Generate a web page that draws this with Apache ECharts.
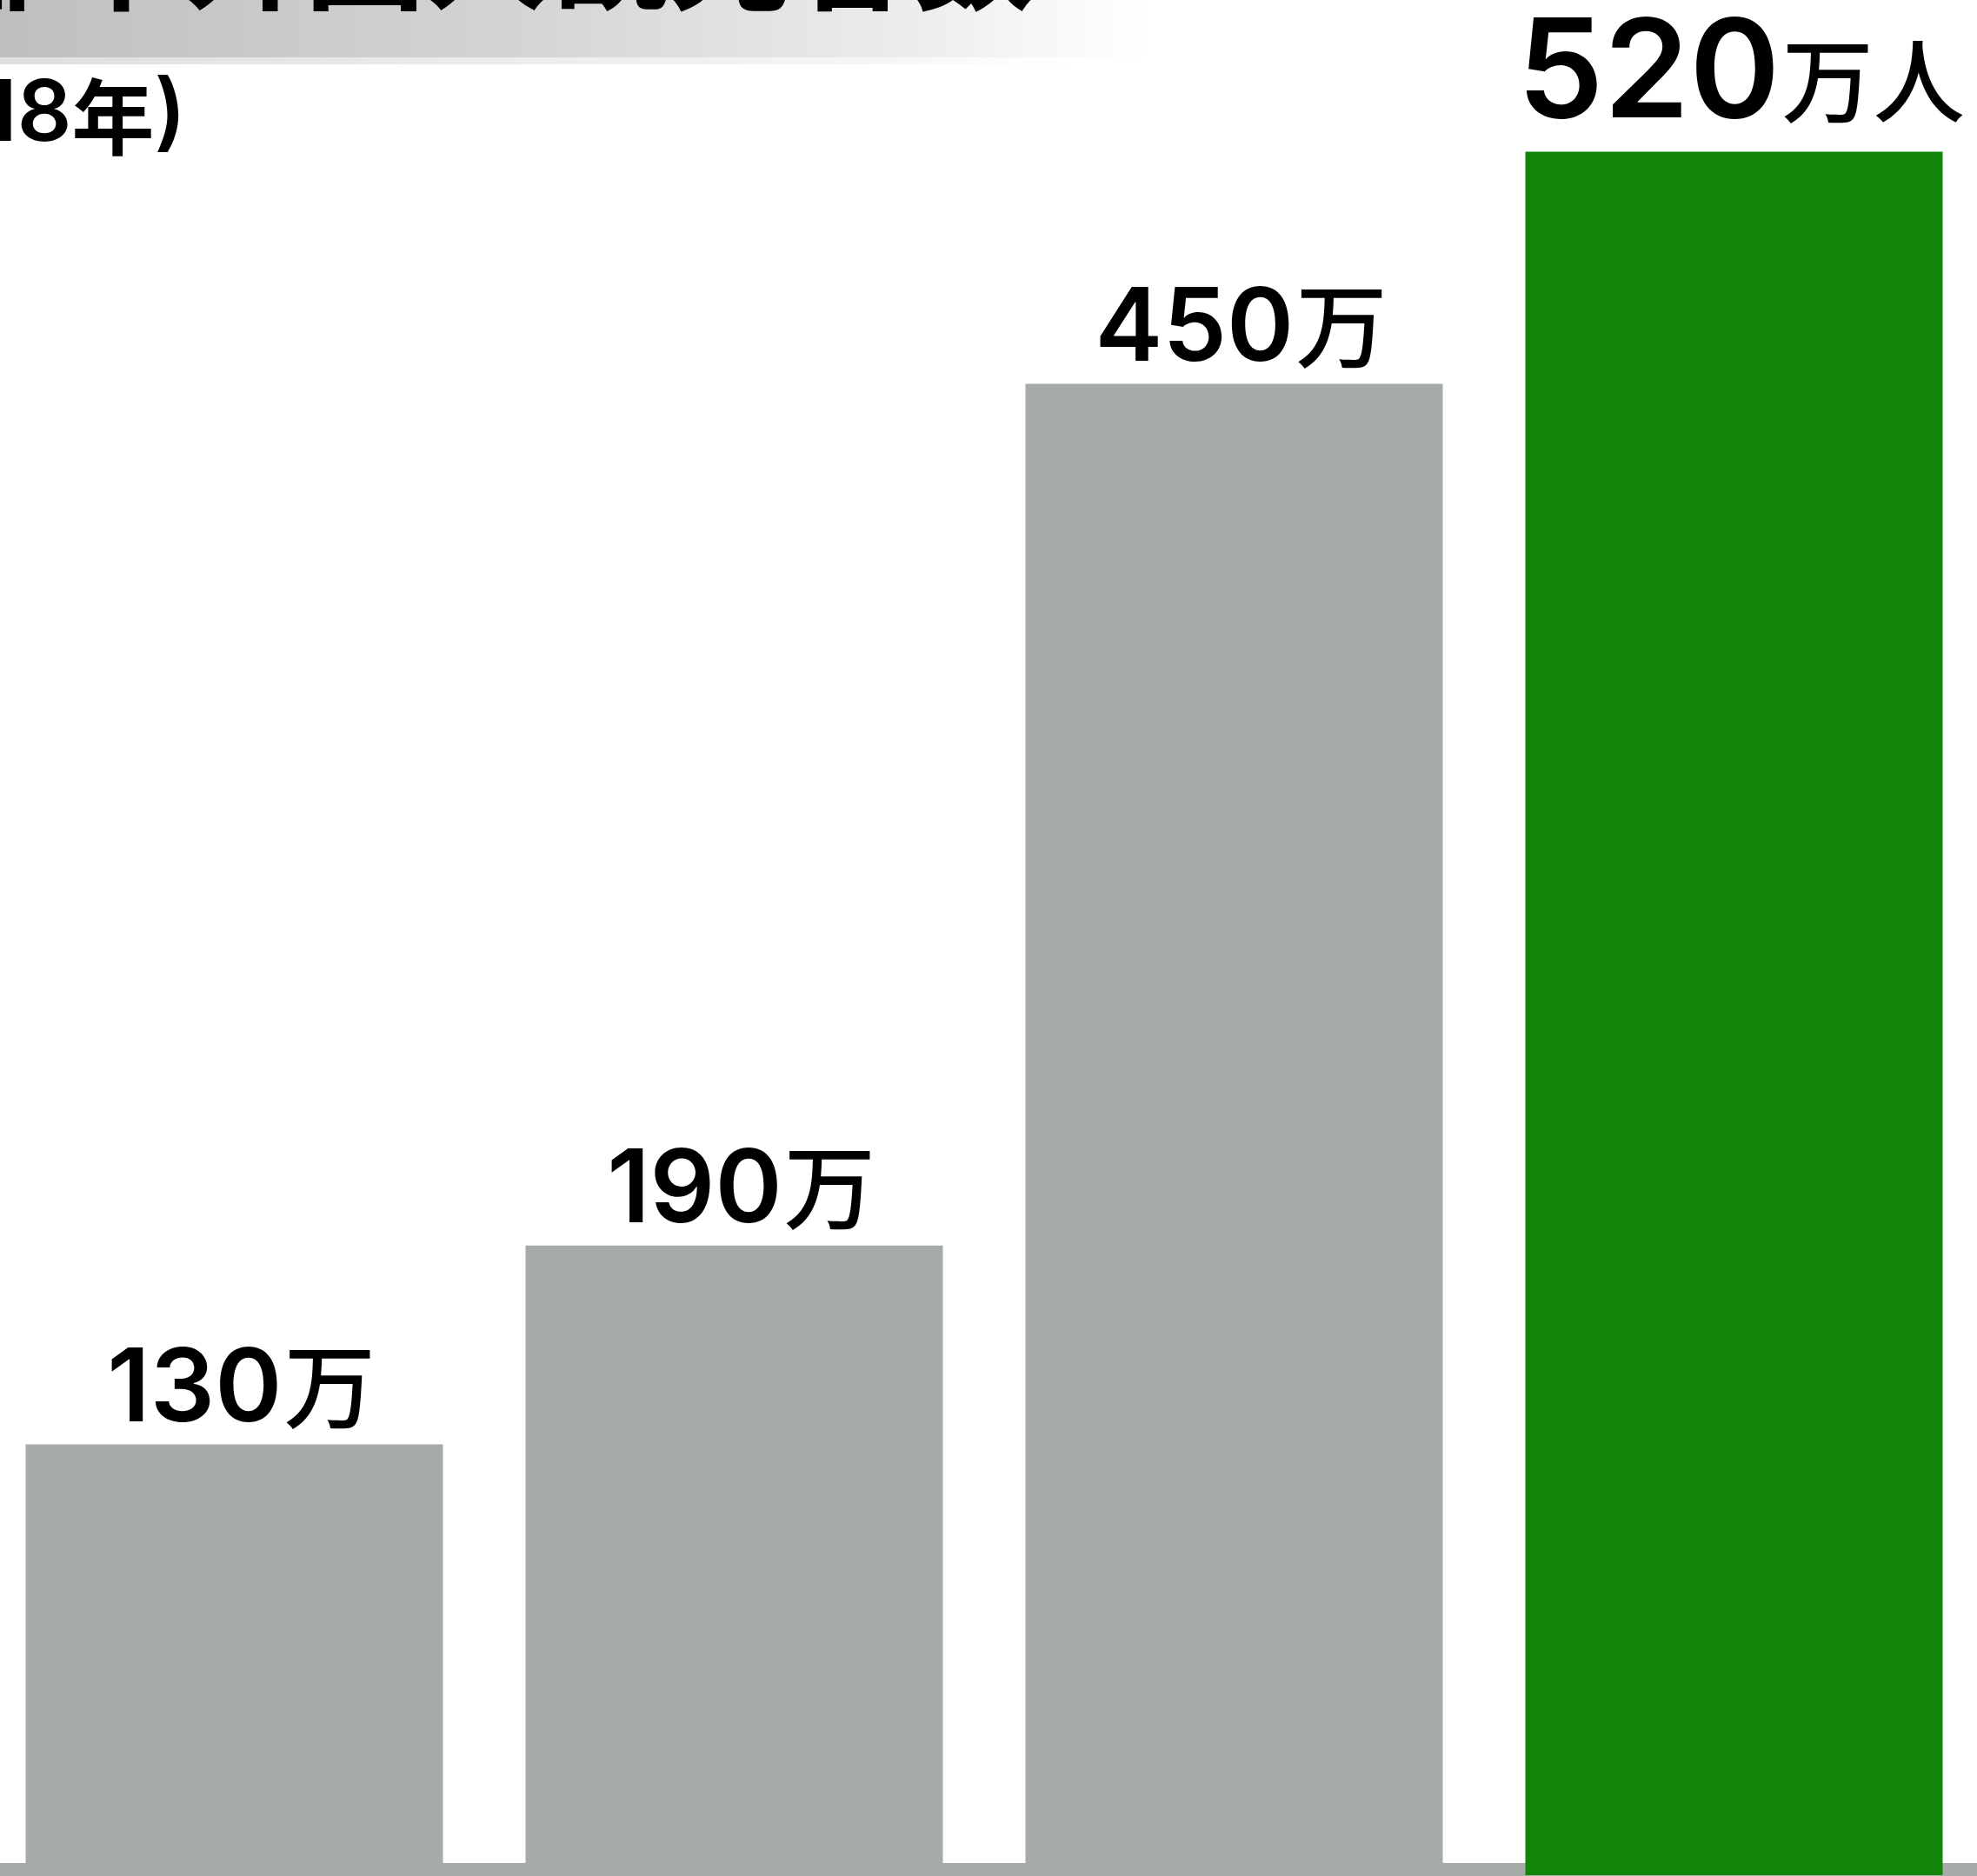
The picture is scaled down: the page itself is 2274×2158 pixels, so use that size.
<!DOCTYPE html>
<html>
<head>
<meta charset="utf-8">
<script src="https://cdn.jsdelivr.net/npm/echarts@6/dist/echarts.min.js"></script>
<style>
html,body{margin:0;padding:0;background:#fff;}
#chart{width:2274px;height:2158px;}
</style>
</head>
<body>
<div id="chart"></div>
<script>
// ---- data ----
const categories = ['A', 'B', 'C', 'D'];
const values = [130, 190, 450, 520];
const units = ['万', '万', '万', '万人'];
const titleText = '都市外国人観光客数';
const subtitleYear = '2018';

const GREY = '#a6aaa9';
const GREEN = '#138508';
const CJK = '"Noto Sans CJK JP", sans-serif';
const NUM = 'Inter, Roboto, "Liberation Sans", sans-serif';

const chart = echarts.init(document.getElementById('chart'));

const seriesData = values.map(function (v, i) {
  const last = i === values.length - 1;
  return {
    value: v,
    itemStyle: { color: last ? GREEN : GREY },
    label: {
      show: true,
      position: 'top',
      distance: last ? 8 : 3,
      offset: [8, 0],
      formatter: '{n|' + v + '}{s| }{u|' + units[i] + '}',
      rich: {
        n: { fontFamily: NUM, fontWeight: 600, fontSize: last ? 158 : 117, color: '#000', verticalAlign: 'bottom' },
        s: { fontFamily: NUM, fontSize: 8, verticalAlign: 'bottom' },
        u: { fontFamily: CJK, fontWeight: 500, fontSize: 105, color: '#000', verticalAlign: 'bottom',
             padding: last ? [0, 0, 22, 0] : [0, 0, 12, 0] }
      }
    }
  };
});

chart.setOption({
  animation: false,
  backgroundColor: '#ffffff',
  grid: { left: -18, width: 2300, top: 22, bottom: 1, containLabel: false, outerBoundsMode: 'none' },
  xAxis: {
    type: 'category',
    data: categories,
    axisLine: { show: true, lineStyle: { color: GREY, width: 28 } },
    axisTick: { show: false },
    axisLabel: { show: false },
    splitLine: { show: false }
  },
  yAxis: {
    type: 'value',
    min: 0,
    max: 560,
    show: false,
    splitLine: { show: false }
  },
  series: [{
    type: 'bar',
    data: seriesData,
    barWidth: 480,
    z: 5
  }],
  graphic: [
    {
      type: 'rect',
      left: 0, top: 0, z: 0,
      shape: { x: 0, y: 0, width: 1320, height: 66 },
      style: {
        fill: new echarts.graphic.LinearGradient(0, 0, 1, 0, [
          { offset: 0, color: '#bdc0bf' },
          { offset: 0.45, color: '#d3d5d4' },
          { offset: 0.8, color: '#eceeed' },
          { offset: 1, color: '#ffffff' }
        ])
      }
    },
    {
      type: 'rect',
      left: 0, top: 66, z: 0,
      shape: { x: 0, y: 0, width: 1300, height: 8 },
      style: {
        fill: new echarts.graphic.LinearGradient(0, 0, 1, 0, [
          { offset: 0, color: 'rgba(189,192,191,0.5)' },
          { offset: 0.8, color: 'rgba(236,238,237,0.5)' },
          { offset: 1, color: 'rgba(255,255,255,0)' }
        ])
      }
    },
    {
      type: 'text',
      z: 10,
      style: {
        x: 1190, y: 17,
        text: titleText,
        align: 'right',
        verticalAlign: 'bottom',
        font: 'bold 140px ' + CJK,
        fill: '#000'
      }
    },
    {
      type: 'text',
      z: 10,
      style: {
        x: 214, y: 182,
        text: '{d|(' + subtitleYear + '}{y|年}{d|)}',
        align: 'right',
        verticalAlign: 'bottom',
        rich: {
          d: { fontFamily: NUM, fontWeight: 600, fontSize: 98, fill: '#000', verticalAlign: 'bottom' },
          y: { fontFamily: CJK, fontWeight: 'bold', fontSize: 95, fill: '#000', verticalAlign: 'bottom' }
        }
      }
    }
  ]
});
</script>
</body>
</html>
